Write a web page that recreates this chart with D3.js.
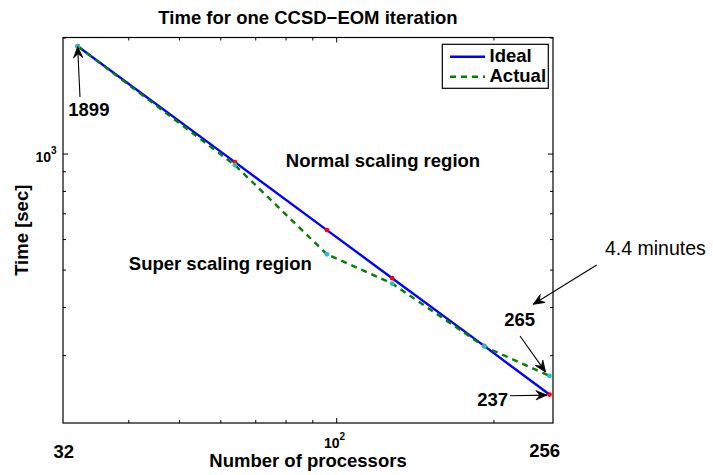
<!DOCTYPE html>
<html>
<head>
<meta charset="utf-8">
<script src="https://cdn.jsdelivr.net/npm/d3@7"></script>
<style>
  html, body { margin: 0; padding: 0; background: #fff; }
  svg { display: block; }
  text { font-family: "Liberation Sans", Arial, Helvetica, sans-serif; fill: #000; }
</style>
</head>
<body>
<div id="chart"></div>
<script>
// ---- data ----
const processors = [32, 64, 96, 128, 192, 256];
const idealTime  = [1899, 950, 633, 475, 317, 237];
const actualTime = [1899, 933, 548, 460, 316, 265];
const seriesNames = ["Ideal", "Actual"];
const xMinorTicks = [40, 50, 60, 70, 80, 90, 200];
const xMajorTicks = [100];
const yMinorTicks = [300, 400, 500, 600, 700, 800, 900, 2000];
const yMajorTicks = [1000];
const titleText = "Time for one CCSD\u2212EOM iteration";
const xLabel = "Number of processors";
const yLabel = "Time [sec]";

// ---- layout ----
const W = 713, H = 475;
const L = 63, R = 553, T = 37.5, B = 423;

const svg = d3.select("#chart").append("svg").attr("width", W).attr("height", H);

const x = d3.scaleLog().domain([30, 260]).range([L, R]);
const y = d3.scaleLog().domain([200, 2000]).range([B, T]);

// frame background
svg.append("rect").attr("x", L).attr("y", T).attr("width", R - L).attr("height", B - T)
  .attr("fill", "#fff");

// ticks (inward, on all four sides)
function addAxis(axisGen, transform) {
  const g = svg.append("g").attr("transform", transform).call(axisGen);
  g.select(".domain").remove();
  g.selectAll(".tick line").attr("stroke", "#000").attr("stroke-width", 1);
  g.selectAll(".tick text").remove();
  return g;
}
addAxis(d3.axisBottom(x).tickValues(xMinorTicks).tickSize(-3), `translate(0,${B})`);
addAxis(d3.axisBottom(x).tickValues(xMajorTicks).tickSize(-5), `translate(0,${B})`);
addAxis(d3.axisTop(x).tickValues(xMinorTicks).tickSize(-3), `translate(0,${T})`);
addAxis(d3.axisTop(x).tickValues(xMajorTicks).tickSize(-5), `translate(0,${T})`);
addAxis(d3.axisLeft(y).tickValues(yMinorTicks).tickSize(-3), `translate(${L},0)`);
addAxis(d3.axisLeft(y).tickValues(yMajorTicks).tickSize(-5), `translate(${L},0)`);
addAxis(d3.axisRight(y).tickValues(yMinorTicks).tickSize(-3), `translate(${R},0)`);
addAxis(d3.axisRight(y).tickValues(yMajorTicks).tickSize(-5), `translate(${R},0)`);

// tick labels 10^n
function powLabel(px, py) {
  const t = svg.append("text").attr("x", px).attr("y", py)
    .attr("font-weight", "bold").style("font-size", "14px");
  return t;
}
xMajorTicks.forEach(v => {
  const t = powLabel(x(v) - 12.2, B + 24.8);
  t.append("tspan").text("10");
  t.append("tspan").style("font-size", "10px").attr("dy", -7.5).text(Math.round(Math.log10(v)));
});
yMajorTicks.forEach(v => {
  const t = powLabel(L - 27.5, y(v) + 8.3);
  t.append("tspan").text("10");
  t.append("tspan").style("font-size", "10px").attr("dy", -7.5).text(Math.round(Math.log10(v)));
});

// end labels 32 and 256 (placed below axis)
svg.append("text").attr("x", 63.7).attr("y", 458.3).attr("text-anchor", "middle")
  .attr("font-weight", "bold").attr("font-size", 18.5).text(processors[0]);
svg.append("text").attr("x", x(processors[processors.length - 1]) - 4.8).attr("y", 457.3)
  .attr("text-anchor", "middle")
  .attr("font-weight", "bold").attr("font-size", 18.5).text(processors[processors.length - 1]);

// lines
const idealData = processors.map((p, i) => [p, idealTime[i]]);
const actualData = processors.map((p, i) => [p, actualTime[i]]);
const line = d3.line().x(d => x(d[0])).y(d => y(d[1]));

svg.append("path").attr("d", line(idealData)).attr("fill", "none")
  .attr("stroke", "#0000ff").attr("stroke-width", 2.4);
svg.append("path").attr("d", line(actualData)).attr("fill", "none")
  .attr("stroke", "#008000").attr("stroke-width", 2.4).attr("stroke-dasharray", "6,5");

// markers
svg.selectAll("circle.ideal").data(idealData).enter().append("circle")
  .attr("class", "ideal").attr("cx", d => x(d[0])).attr("cy", d => y(d[1]))
  .attr("r", 2.4).attr("fill", "#ff0000");
svg.selectAll("circle.actual").data(actualData).enter().append("circle")
  .attr("class", "actual").attr("cx", d => x(d[0])).attr("cy", d => y(d[1]))
  .attr("r", 2.4).attr("fill", "#1cc4c4");

// frame
svg.append("rect").attr("x", L).attr("y", T).attr("width", R - L).attr("height", B - T)
  .attr("fill", "none").attr("stroke", "#000").attr("stroke-width", 1.2);

// title & axis labels
svg.append("text").attr("x", (L + R) / 2).attr("y", 24).attr("text-anchor", "middle")
  .attr("font-weight", "bold").attr("font-size", 18.5).text(titleText);
svg.append("text").attr("x", (L + R) / 2).attr("y", 467).attr("text-anchor", "middle")
  .attr("font-weight", "bold").attr("font-size", 18.5).text(xLabel);
svg.append("text").attr("transform", `translate(28.3,${(T + B) / 2}) rotate(-90)`)
  .attr("text-anchor", "middle")
  .attr("font-weight", "bold").attr("font-size", 18.5).text(yLabel);

// region labels
svg.append("text").attr("x", 383).attr("y", 167.3).attr("text-anchor", "middle")
  .attr("font-weight", "bold").attr("font-size", 18.5).text("Normal scaling region");
svg.append("text").attr("x", 220.3).attr("y", 270).attr("text-anchor", "middle")
  .attr("font-weight", "bold").attr("font-size", 18.5).text("Super scaling region");

// arrows
function arrow(x1, y1, x2, y2) {
  svg.append("line").attr("x1", x1).attr("y1", y1).attr("x2", x2).attr("y2", y2)
    .attr("stroke", "#000").attr("stroke-width", 1.1);
  const ang = Math.atan2(y2 - y1, x2 - x1) * 180 / Math.PI;
  svg.append("path").attr("d", "M0,0 L-11,-4.6 L-7,0 L-11,4.6 Z")
    .attr("transform", `translate(${x2},${y2}) rotate(${ang})`)
    .attr("fill", "#000").attr("stroke", "#000").attr("stroke-width", 0.8)
    .attr("stroke-linejoin", "round");
}
// 1899 annotation
arrow(80, 97, x(processors[0]), y(actualTime[0]) + 0.5);
svg.append("text").attr("x", 68.3).attr("y", 116)
  .attr("font-weight", "bold").attr("font-size", 18.5).text(actualTime[0]);
// 237 annotation
arrow(510, 395.7, x(processors[5]) - 2.5, y(idealTime[5]) + 0.5);
svg.append("text").attr("x", 477.3).attr("y", 405.7)
  .attr("font-weight", "bold").attr("font-size", 18.5).text(idealTime[5]);
// 265 annotation
arrow(520, 336, x(processors[5]) - 4, y(actualTime[5]) - 4);
svg.append("text").attr("x", 504.3).attr("y", 326)
  .attr("font-weight", "bold").attr("font-size", 18.5).text(actualTime[5]);
// 4.4 minutes annotation
arrow(596.7, 265, 533.3, 304.3);
svg.append("text").attr("x", 605).attr("y", 255)
  .attr("font-size", 19.5).text((actualTime[5] / 60).toFixed(1) + " minutes");

// legend
const lg = svg.append("g");
lg.append("rect").attr("x", 442.3).attr("y", 44.3).attr("width", 106).attr("height", 44)
  .attr("fill", "#fff").attr("stroke", "#000").attr("stroke-width", 1.2);
const legendStyles = [
  { color: "#0000ff", dash: null },
  { color: "#008000", dash: "6,5" }
];
seriesNames.forEach((name, i) => {
  const yy = 56.7 + i * 20;
  const ln = lg.append("line").attr("x1", 450).attr("x2", 485).attr("y1", yy).attr("y2", yy)
    .attr("stroke", legendStyles[i].color).attr("stroke-width", 2.4);
  if (legendStyles[i].dash) ln.attr("stroke-dasharray", legendStyles[i].dash);
  lg.append("text").attr("x", 489.5).attr("y", yy + 5.2)
    .attr("font-weight", "bold").attr("font-size", 18.5).text(name);
});
</script>
</body>
</html>
